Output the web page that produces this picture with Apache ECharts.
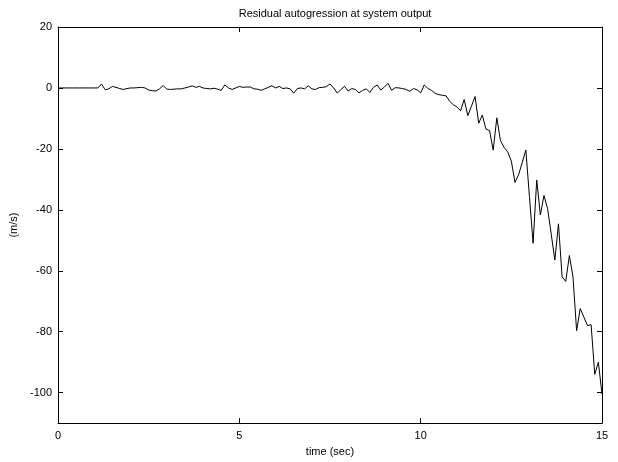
<!DOCTYPE html>
<html>
<head>
<meta charset="utf-8">
<script src="https://cdn.jsdelivr.net/npm/echarts@6/dist/echarts.min.js"></script>
<style>
  html, body { margin: 0; padding: 0; background: #fff; }
  #chart { width: 618px; height: 462px; }
</style>
</head>
<body>
<div id="chart"></div>
<script>
// sample spacing (sec) and residual values (m/s), one per sample from t = 0
const sampleStep = 0.1;
const residual = [
  0, 0, 0, 0, 0, 0, 0, 0, 0, 0,
  0, 0, 1.3, -0.6, -0.3, 0.5, 0.2, -0.2, -0.5, -0.2,
  0, 0, 0.1, 0.2, 0, -0.7, -0.9, -1.0, -0.3, 0.8,
  -0.4, -0.5, -0.4, -0.3, -0.3, 0, 0.3, 0.7, 0.2, 0.5,
  0, -0.2, -0.3, -0.1, -0.4, -0.8, 1.0, 0, -0.5, 0,
  0.5, 0.2, 0.3, 0.3, -0.3, -0.4, -0.8, -0.3, 0.2, 0.7,
  0, 0.5, -0.2, 0, -0.3, -1.7, -0.2, 0, -0.3, 0.7,
  -0.3, -0.5, 0.1, 0.2, 0.4, 1.3, 0, -1.7, -0.5, 0.5,
  -1.0, -0.2, -0.5, -1.6, -0.8, -0.3, -1.5, 0.2, 1.0, -0.7,
  0.3, 1.5, -0.8, 0.1, 0, -0.2, -0.5, -1.1, -0.2, -0.6,
  -1.6, 1.0, -0.2, -0.8, -1.8, -2.2, -2.4, -2.6, -4.4, -5.5,
  -6.2, -7.5, -3.8, -9.1, -6.0, -2.8, -11.6, -8.9, -13.5, -14.0,
  -20.4, -9.8, -17.3, -19.5, -21.0, -24.0, -31.0, -28.5, -24.5, -20.4,
  -35.7, -51.0, -30.2, -41.7, -35.3, -39.6, -48.0, -56.5, -44.6, -62.0,
  -63.5, -55.0, -62.0, -79.7, -72.4, -75.2, -78.0, -77.7, -94.0, -90.0,
  -100.5
];
const yTicks = [-100, -80, -60, -40, -20, 0, 20];

const points = residual.map((v, i) => [+(i * sampleStep).toFixed(1), v]);

const chart = echarts.init(document.getElementById('chart'), null, { renderer: 'canvas' });

const font = 'Liberation Sans, Arial, Helvetica, sans-serif';
const axisLine = { show: true, onZero: false, lineStyle: { color: '#000', width: 1 } };
const tick = { inside: true, length: 5, lineStyle: { color: '#000' } };

chart.setOption({
  animation: false,
  backgroundColor: '#fff',
  title: {
    text: 'Residual autogression at system output',
    left: 330,
    textAlign: 'center',
    top: 3,
    textStyle: { fontFamily: font, fontSize: 11, fontWeight: 'normal', color: '#000' }
  },
  grid: { left: 58, right: 16, top: 27, bottom: 31 },
  xAxis: [
    {
      type: 'value', min: 0, max: 15, interval: 5, position: 'bottom',
      name: 'time (sec)', nameLocation: 'middle', nameGap: 21,
      nameTextStyle: { fontFamily: font, fontSize: 11, color: '#000' },
      axisLine: axisLine,
      axisTick: tick,
      axisLabel: { fontFamily: font, fontSize: 11, color: '#000', margin: 7 },
      splitLine: { show: false }
    },
    {
      type: 'value', min: 0, max: 15, interval: 5, position: 'top',
      axisLine: axisLine,
      axisTick: tick,
      axisLabel: { show: false },
      splitLine: { show: false }
    }
  ],
  yAxis: [
    {
      type: 'value', min: -110, max: 20, position: 'left',
      name: '(m/s)', nameLocation: 'middle', nameGap: 36, nameRotate: 90,
      nameTextStyle: { fontFamily: font, fontSize: 11, color: '#000' },
      axisLine: axisLine,
      axisTick: Object.assign({ customValues: yTicks }, tick),
      axisLabel: { fontFamily: font, fontSize: 11, color: '#000', margin: 6, customValues: yTicks },
      splitLine: { show: false }
    },
    {
      type: 'value', min: -110, max: 20, position: 'right',
      axisLine: axisLine,
      axisTick: Object.assign({ customValues: yTicks }, tick),
      axisLabel: { show: false },
      splitLine: { show: false }
    }
  ],
  series: [
    {
      type: 'line',
      xAxisIndex: 0,
      yAxisIndex: 0,
      data: points,
      showSymbol: false,
      symbol: 'none',
      lineStyle: { color: '#000', width: 1 }
    }
  ]
});
</script>
</body>
</html>
